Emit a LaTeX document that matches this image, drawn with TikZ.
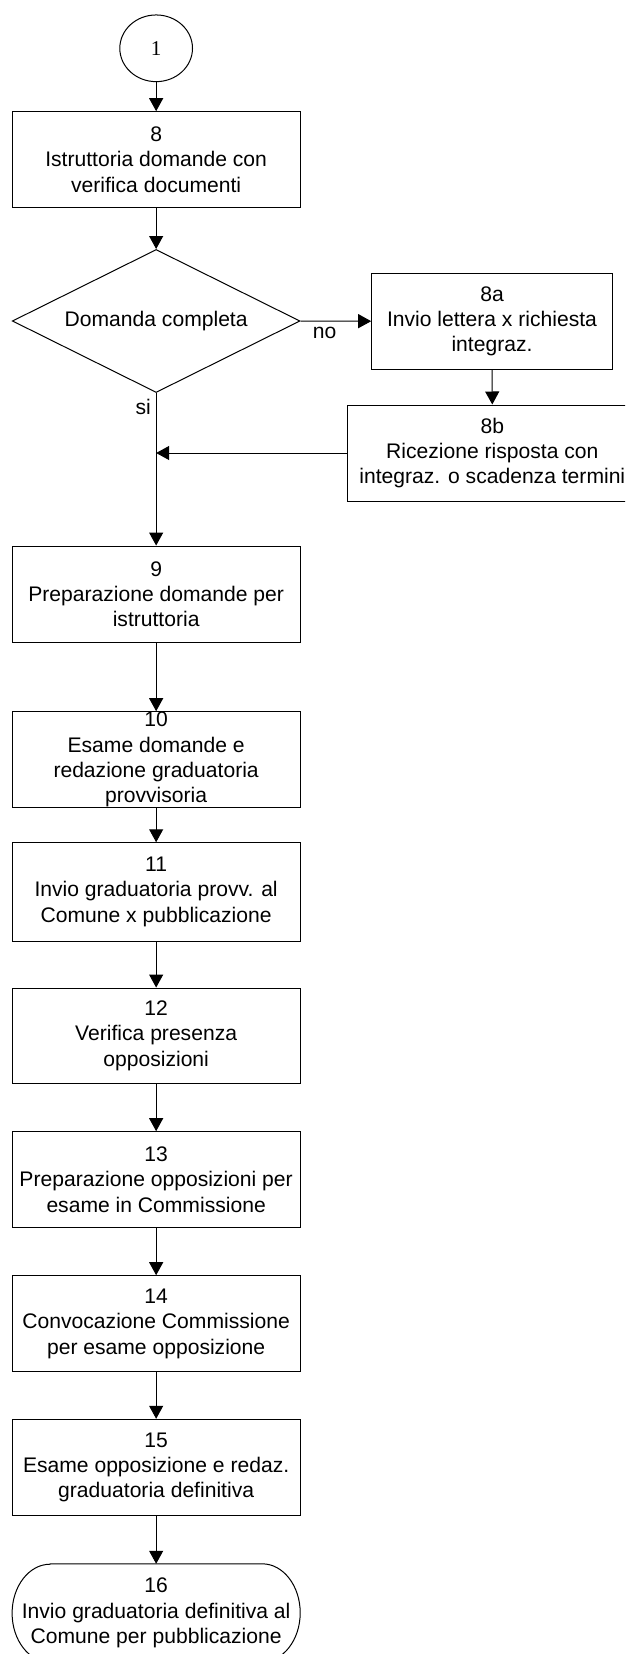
\documentclass[tikz,border=0pt]{standalone}
\usepackage{fontspec}
\setmainfont{Liberation Sans}
\newfontfamily\serifnum{Liberation Serif}
\usetikzlibrary{arrows.meta,shapes.geometric}
\begin{document}
\begin{tikzpicture}[x=1pt,y=-1pt,
  every node/.style={font=\fontsize{21.1}{25.3}\selectfont, inner sep=0pt, align=center},
  box/.style={draw, line width=1pt, minimum width=287.7pt, minimum height=96pt},
  conn/.style={line width=1pt, -{Triangle[width=14pt,length=13pt]}},
  lbl/.style={font=\fontsize{21.1}{25.3}\selectfont}
]
\useasboundingbox (0,0) rectangle (625,1654);
\clip (0,0) rectangle (625,1654);

\node[draw, ellipse, line width=1pt, minimum width=72.7pt, minimum height=66.7pt,
      font=\serifnum\fontsize{21.1}{25}\selectfont] (c1) at (156.15,48.3) {1};

\node[box, minimum height=95.6pt] (b8) at (156.15,159.5) {8\\Istruttoria domande con\\verifica documenti};

\node[draw, diamond, shape aspect=2, line width=1pt, minimum width=287.7pt, minimum height=143pt] (d) at (156.15,321) {Domanda completa};

\node[box, minimum width=240.6pt, minimum height=95.7pt] (b8a) at (492,321.2) {8a\\Invio lettera x richiesta\\integraz.};

\node[box, minimum width=289.2pt, minimum height=96pt] (b8b) at (492.3,453) {8b\\Ricezione risposta con\\integraz. o scadenza termini};

\node[box, minimum height=96.3pt] (b9) at (156.15,594.2) {9\\Preparazione domande per\\istruttoria};
\node[box, minimum height=95.6pt] (b10) at (156.15,759.5) {10\\Esame domande e\\redazione graduatoria\\provvisoria};
\node[box, minimum height=98.3pt] (b11) at (156.15,891.9) {11\\Invio graduatoria provv. al\\Comune x pubblicazione};
\node[box, minimum height=95.3pt] (b12) at (156.15,1035.7) {12\\Verifica presenza\\opposizioni};
\node[box] (b13) at (156.15,1179.7) {13\\Preparazione opposizioni per\\esame in Commissione};
\node[box] (b14) at (156.15,1323.7) {14\\Convocazione Commissione\\per esame opposizione};
\node[box, minimum height=96.4pt] (b15) at (156.15,1467.5) {15\\Esame opposizione e redaz.\\graduatoria definitiva};

\node[minimum width=287.7pt, minimum height=98pt] (t16) at (156.15,1613) {16\\Invio graduatoria definitiva al\\Comune per pubblicazione};
\draw[line width=1pt] ([xshift=38pt]t16.north west) -- ([xshift=-38pt]t16.north east)
  arc[start angle=90, end angle=-90, x radius=38pt, y radius=49pt]
  -- ([xshift=38pt]t16.south west)
  arc[start angle=270, end angle=90, x radius=38pt, y radius=49pt] -- cycle;

\draw[conn] (c1.south) -- (b8.north);
\draw[conn] (b8.south) -- (d.north);
\draw[conn] (d.east) -- node[lbl, pos=0.34, yshift=-12.3pt] (lno) {no} (b8a.west);
\draw[conn] (b8a.south) -- (b8b.north);
\draw[conn] (d.south) -- node[lbl, pos=0.089, xshift=-13pt] (lsi) {si} (b9.north);
\coordinate (j) at (d.south |- b8b.west);
\draw[conn] (b8b.west) -- (j);
\draw[conn] (b9.south) -- (b10.north);
\draw[conn] (b10.south) -- (b11.north);
\draw[conn] (b11.south) -- (b12.north);
\draw[conn] (b12.south) -- (b13.north);
\draw[conn] (b13.south) -- (b14.north);
\draw[conn] (b14.south) -- (b15.north);
\draw[conn] (b15.south) -- (t16.north);
\end{tikzpicture}
\end{document}
